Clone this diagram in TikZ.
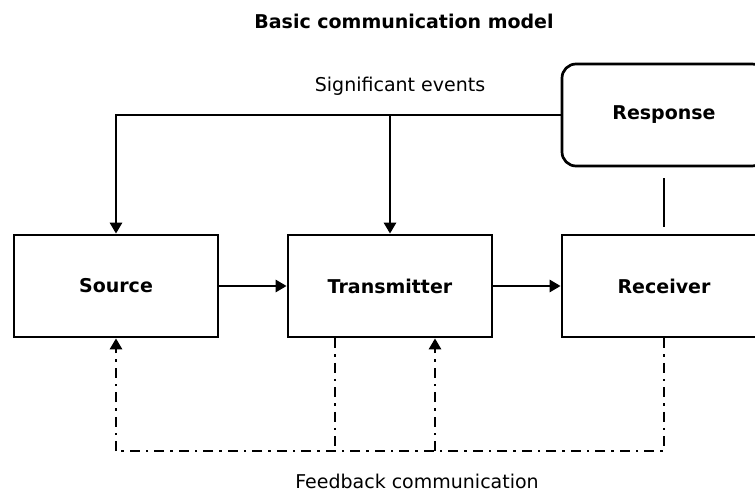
\documentclass[tikz,border=0pt]{standalone}
\usepackage{fontspec}
\setmainfont{DejaVu Sans}
\usetikzlibrary{arrows.meta}
\begin{document}
\begin{tikzpicture}[x=1pt,y=-1pt,
  box/.style={draw, line width=2.7pt, minimum width=204pt, minimum height=102pt, inner sep=0pt,
    font=\bfseries\fontsize{19}{23}\selectfont},
  lbl/.style={font=\fontsize{19}{23}\selectfont, inner sep=0pt},
  conn/.style={line width=2.7pt},
  arr/.style={conn, -{Triangle[width=12pt,length=11pt]}},
  fbline/.style={line width=2.7pt, dash pattern=on 10pt off 6pt on 2.5pt off 6pt},
  fbarr/.style={fbline, -{Triangle[width=12pt,length=11pt]}}]
\useasboundingbox (0,0) rectangle (755,494);
\node[lbl, font=\bfseries\fontsize{19}{23}\selectfont] (title) at (404,21) {Basic communication model};
\node[lbl] (sig) at (400,86) {Significant\ events};
\node[lbl] (fb) at (417,481) {Feedback communication};
\node[box] (src) at (116,286) {Source};
\node[box] (tx) at (390,286) {Transmitter};
\node[box] (rx) at (664,286) {Receiver};
\node[box, rounded corners=14pt] (resp) at (664,115) {Response};
\draw[arr] (resp.west) -| (src.north);
\draw[arr] (tx.north |- resp.west) -- (tx.north);
\draw[arr] (src.east) -- (tx.west);
\draw[arr] (tx.east) -- (rx.west);
\draw[conn] ([yshift=-11pt]resp.south) -- ([yshift=7pt]rx.north);
\coordinate (b1) at (116,451);
\draw[fbline] (rx.south) |- (b1);
\draw[fbarr] (b1) -- (src.south);
\draw[fbline] ([xshift=-55pt]tx.south) -- ([xshift=-55pt]tx.south |- b1);
\draw[fbarr] ([xshift=45pt]tx.south |- b1) -- ([xshift=45pt]tx.south);
\end{tikzpicture}
\end{document}
